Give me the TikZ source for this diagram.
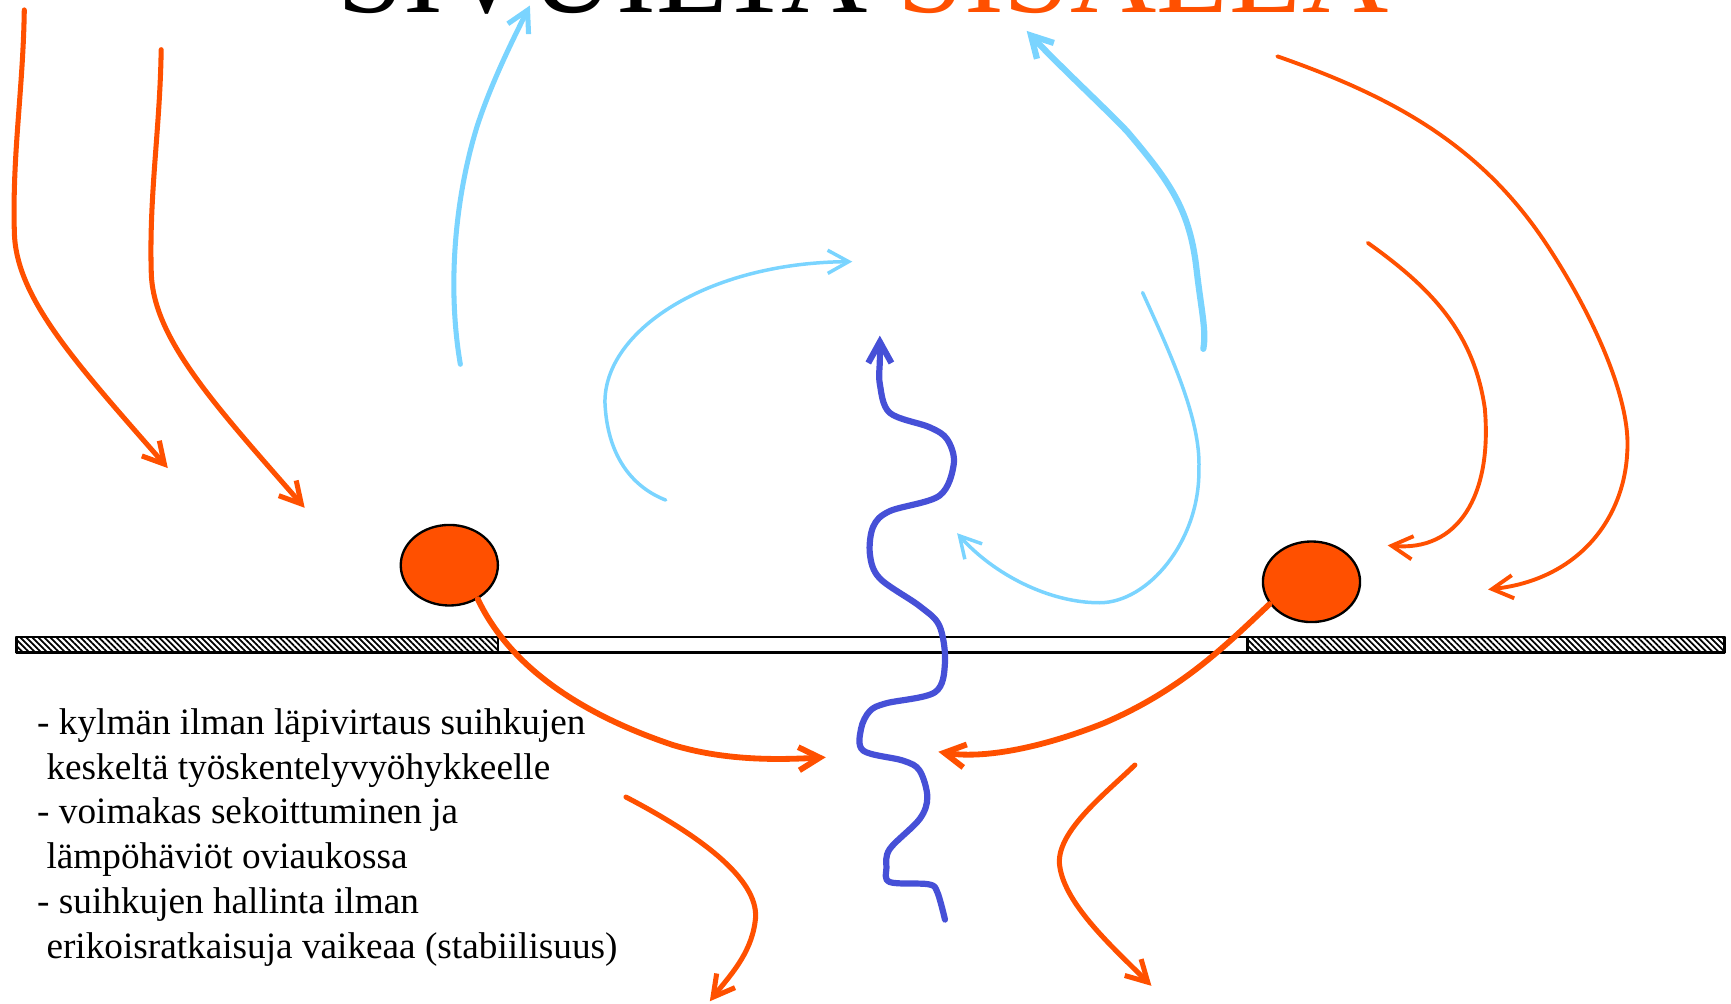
\documentclass[tikz,border=0pt]{standalone}
\usepackage{fontspec}
\setmainfont{Liberation Serif}
\usetikzlibrary{arrows.meta,shapes.geometric,patterns.meta}

\definecolor{heat}{RGB}{255,80,0}
\definecolor{sky}{RGB}{122,212,255}
\definecolor{jet}{RGB}{70,80,215}

\begin{document}
\begin{tikzpicture}[x=0.1mm, y=-0.1mm, line cap=round, line join=round,
   >={Straight Barb[length=1.9mm,width=2.1mm]},
   warm/.style={draw=heat, line width=1.3pt, ->},
   cold/.style={draw=sky, line width=1.3pt, ->},
   hatch/.style={draw, line width=0.6pt,
                 pattern={Lines[angle=-45,distance=1.1pt,line width=0.45pt]}},
   ball/.style={ellipse, draw, line width=0.6pt, fill=heat, inner sep=0pt,
                minimum width=8.8mm, minimum height=7.3mm}]
  \useasboundingbox (0,0) rectangle (1568,909);
  \clip (0,0) rectangle (1568,909);

  \node[anchor=base west, inner sep=0pt, font=\fontsize{30.8}{36}\selectfont] (title)
       at (305,11.5) {SIVUILTA \textcolor{heat}{SISÄLLÄ}};

  % wall with the door opening
  \draw[line width=0.6pt, fill=white] (15,577) rectangle (1562,591);
  \draw[hatch] (15,577) rectangle (451,591);
  \draw[hatch] (1130,577) rectangle (1562,591);

  \node[ball] (lball) at (407,512) {};
  \node[ball] (rball) at (1188,527) {};

  % outside air coming down
  \draw[warm] (22,9) .. controls (21,80) and (11,140) .. (13,210)
              .. controls (14,270) and (70,330) .. (152,424);
  \draw[warm] (146,45) .. controls (145,116) and (135,176) .. (137,246)
              .. controls (138,306) and (194,366) .. (276,460);
  \draw[warm, line width=1pt] (1157,51) .. controls (1260,87) and (1340,130) .. (1400,220)
              .. controls (1440,280) and (1478,360) .. (1474,410)
              .. controls (1471,470) and (1430,525) .. (1348,534);
  \draw[warm, line width=1pt] (1239,220) .. controls (1295,260) and (1335,300) .. (1345,370)
              .. controls (1352,450) and (1320,500) .. (1257,494);

  % cold return flows
  \draw[cold] (417,330) .. controls (405,260) and (412,180) .. (432,115)
              .. controls (445,75) and (465,35) .. (480,5);
  \draw[cold, line width=0.9pt] (603,453) .. controls (570,440) and (550,410) .. (548,365)
              .. controls (547,300) and (640,238) .. (772,237);
  \draw[cold, line width=1.6pt] (1090,316) .. controls (1093,300) and (1088,280) .. (1084,245)
              .. controls (1078,190) and (1060,165) .. (1021,119)
              .. controls (1000,97) and (960,60) .. (930,28);
  \draw[cold, line width=0.9pt] (1035,265) .. controls (1060,320) and (1088,380) .. (1086,425)
              .. controls (1087,490) and (1040,546) .. (996,546)
              .. controls (950,546) and (900,520) .. (867,483);

  % jets from the nozzles
  \draw[warm, line width=1.5pt] (lball.-50) .. controls (460,600) and (520,645) .. (610,675)
              .. controls (660,690) and (710,688) .. (748,686);
  \draw[warm, line width=1.5pt] (rball.208) .. controls (1110,585) and (1070,625) .. (1000,655)
              .. controls (950,675) and (895,688) .. (850,681);

  % mixing through the opening
  \draw[jet, line width=1.6pt, ->] plot[smooth, tension=0.55] coordinates {
      (856,833) (849,808) (841,801) (806,799) (803,786) (806,769) (833,742)
      (840,722) (833,698) (818,689) (782,680) (780,660) (788,644) (803,637)
      (847,627) (856,600) (851,567) (833,549) (797,524) (788,502) (791,477)
      (806,463) (851,449) (864,420) (858,398) (842,387) (806,374) (797,348)
      (797,326) (797,304)};

  \draw[warm] (567,722) .. controls (640,760) and (690,800) .. (684,835)
              .. controls (680,865) and (660,885) .. (643,907);
  \draw[warm] (1028,693) .. controls (1000,720) and (955,755) .. (960,785)
              .. controls (965,820) and (1010,860) .. (1043,893);

  \node[anchor=north west, align=left, inner sep=0pt,
        font=\fontsize{9.6}{11.55}\selectfont] (notes) at (33,641)
       {- kylmän ilman läpivirtaus suihkujen\\
        \hspace*{.25em}keskeltä työskentelyvyöhykkeelle\\
        - voimakas sekoittuminen ja\\
        \hspace*{.25em}lämpöhäviöt oviaukossa\\
        - suihkujen hallinta ilman\\
        \hspace*{.25em}erikoisratkaisuja vaikeaa (stabiilisuus)};
\end{tikzpicture}
\end{document}
